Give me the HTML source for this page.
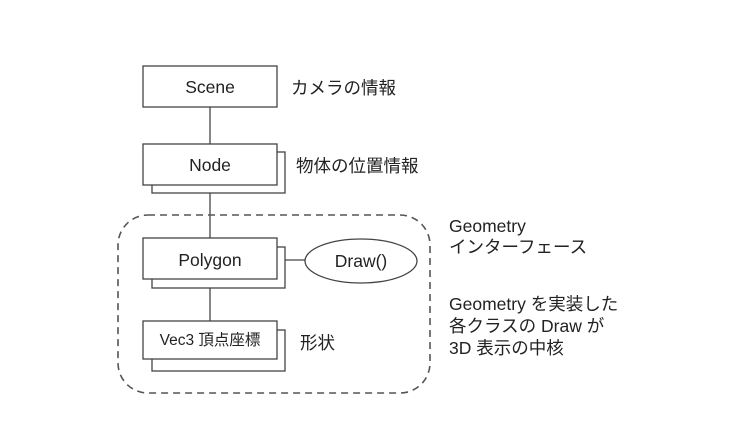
<!DOCTYPE html>
<html><head><meta charset="utf-8"><style>
html,body{margin:0;padding:0;background:#fff;}
svg text{font-family:"Liberation Sans","Noto Sans CJK JP",sans-serif;fill:#222;}
</style></head><body>
<svg width="750" height="439" viewBox="0 0 750 439" xmlns="http://www.w3.org/2000/svg">
<g stroke="#444" stroke-width="1.3" fill="#fff">
<line x1="210" y1="107" x2="210" y2="144"/>
<line x1="210" y1="185" x2="210" y2="238"/>
<line x1="210" y1="279" x2="210" y2="321"/>
<line x1="285" y1="260" x2="305" y2="260"/>
<rect x="118" y="215" width="312" height="178" rx="30" fill="none" stroke="#555" stroke-width="1.6" stroke-dasharray="7,5"/>
<rect x="143" y="66" width="134" height="41"/>
<rect x="152" y="152" width="133" height="41"/>
<rect x="143" y="144" width="134" height="41"/>
<rect x="152" y="247" width="133" height="41"/>
<rect x="143" y="238" width="134" height="41"/>
<rect x="152" y="330" width="133" height="41"/>
<rect x="143" y="321" width="134" height="38"/>
<ellipse cx="361" cy="261" rx="56" ry="22"/>
</g>
<g font-size="17.5">
<text x="210" y="93" text-anchor="middle">Scene</text>
<text x="210" y="171" text-anchor="middle">Node</text>
<text x="210" y="266" text-anchor="middle">Polygon</text>
<text x="361" y="267" text-anchor="middle">Draw()</text>
<text x="210" y="345" text-anchor="middle" font-size="15.5">Vec3 頂点座標</text>
<text x="291" y="94">カメラの情報</text>
<text x="296" y="172">物体の位置情報</text>
<text x="300" y="349">形状</text>
<text x="449" y="232">Geometry</text>
<text x="449" y="253">インターフェース</text>
<text x="449" y="310">Geometry を実装した</text>
<text x="449" y="332">各クラスの Draw が</text>
<text x="449" y="354">3D 表示の中核</text>
</g>
</svg>
</body></html>
